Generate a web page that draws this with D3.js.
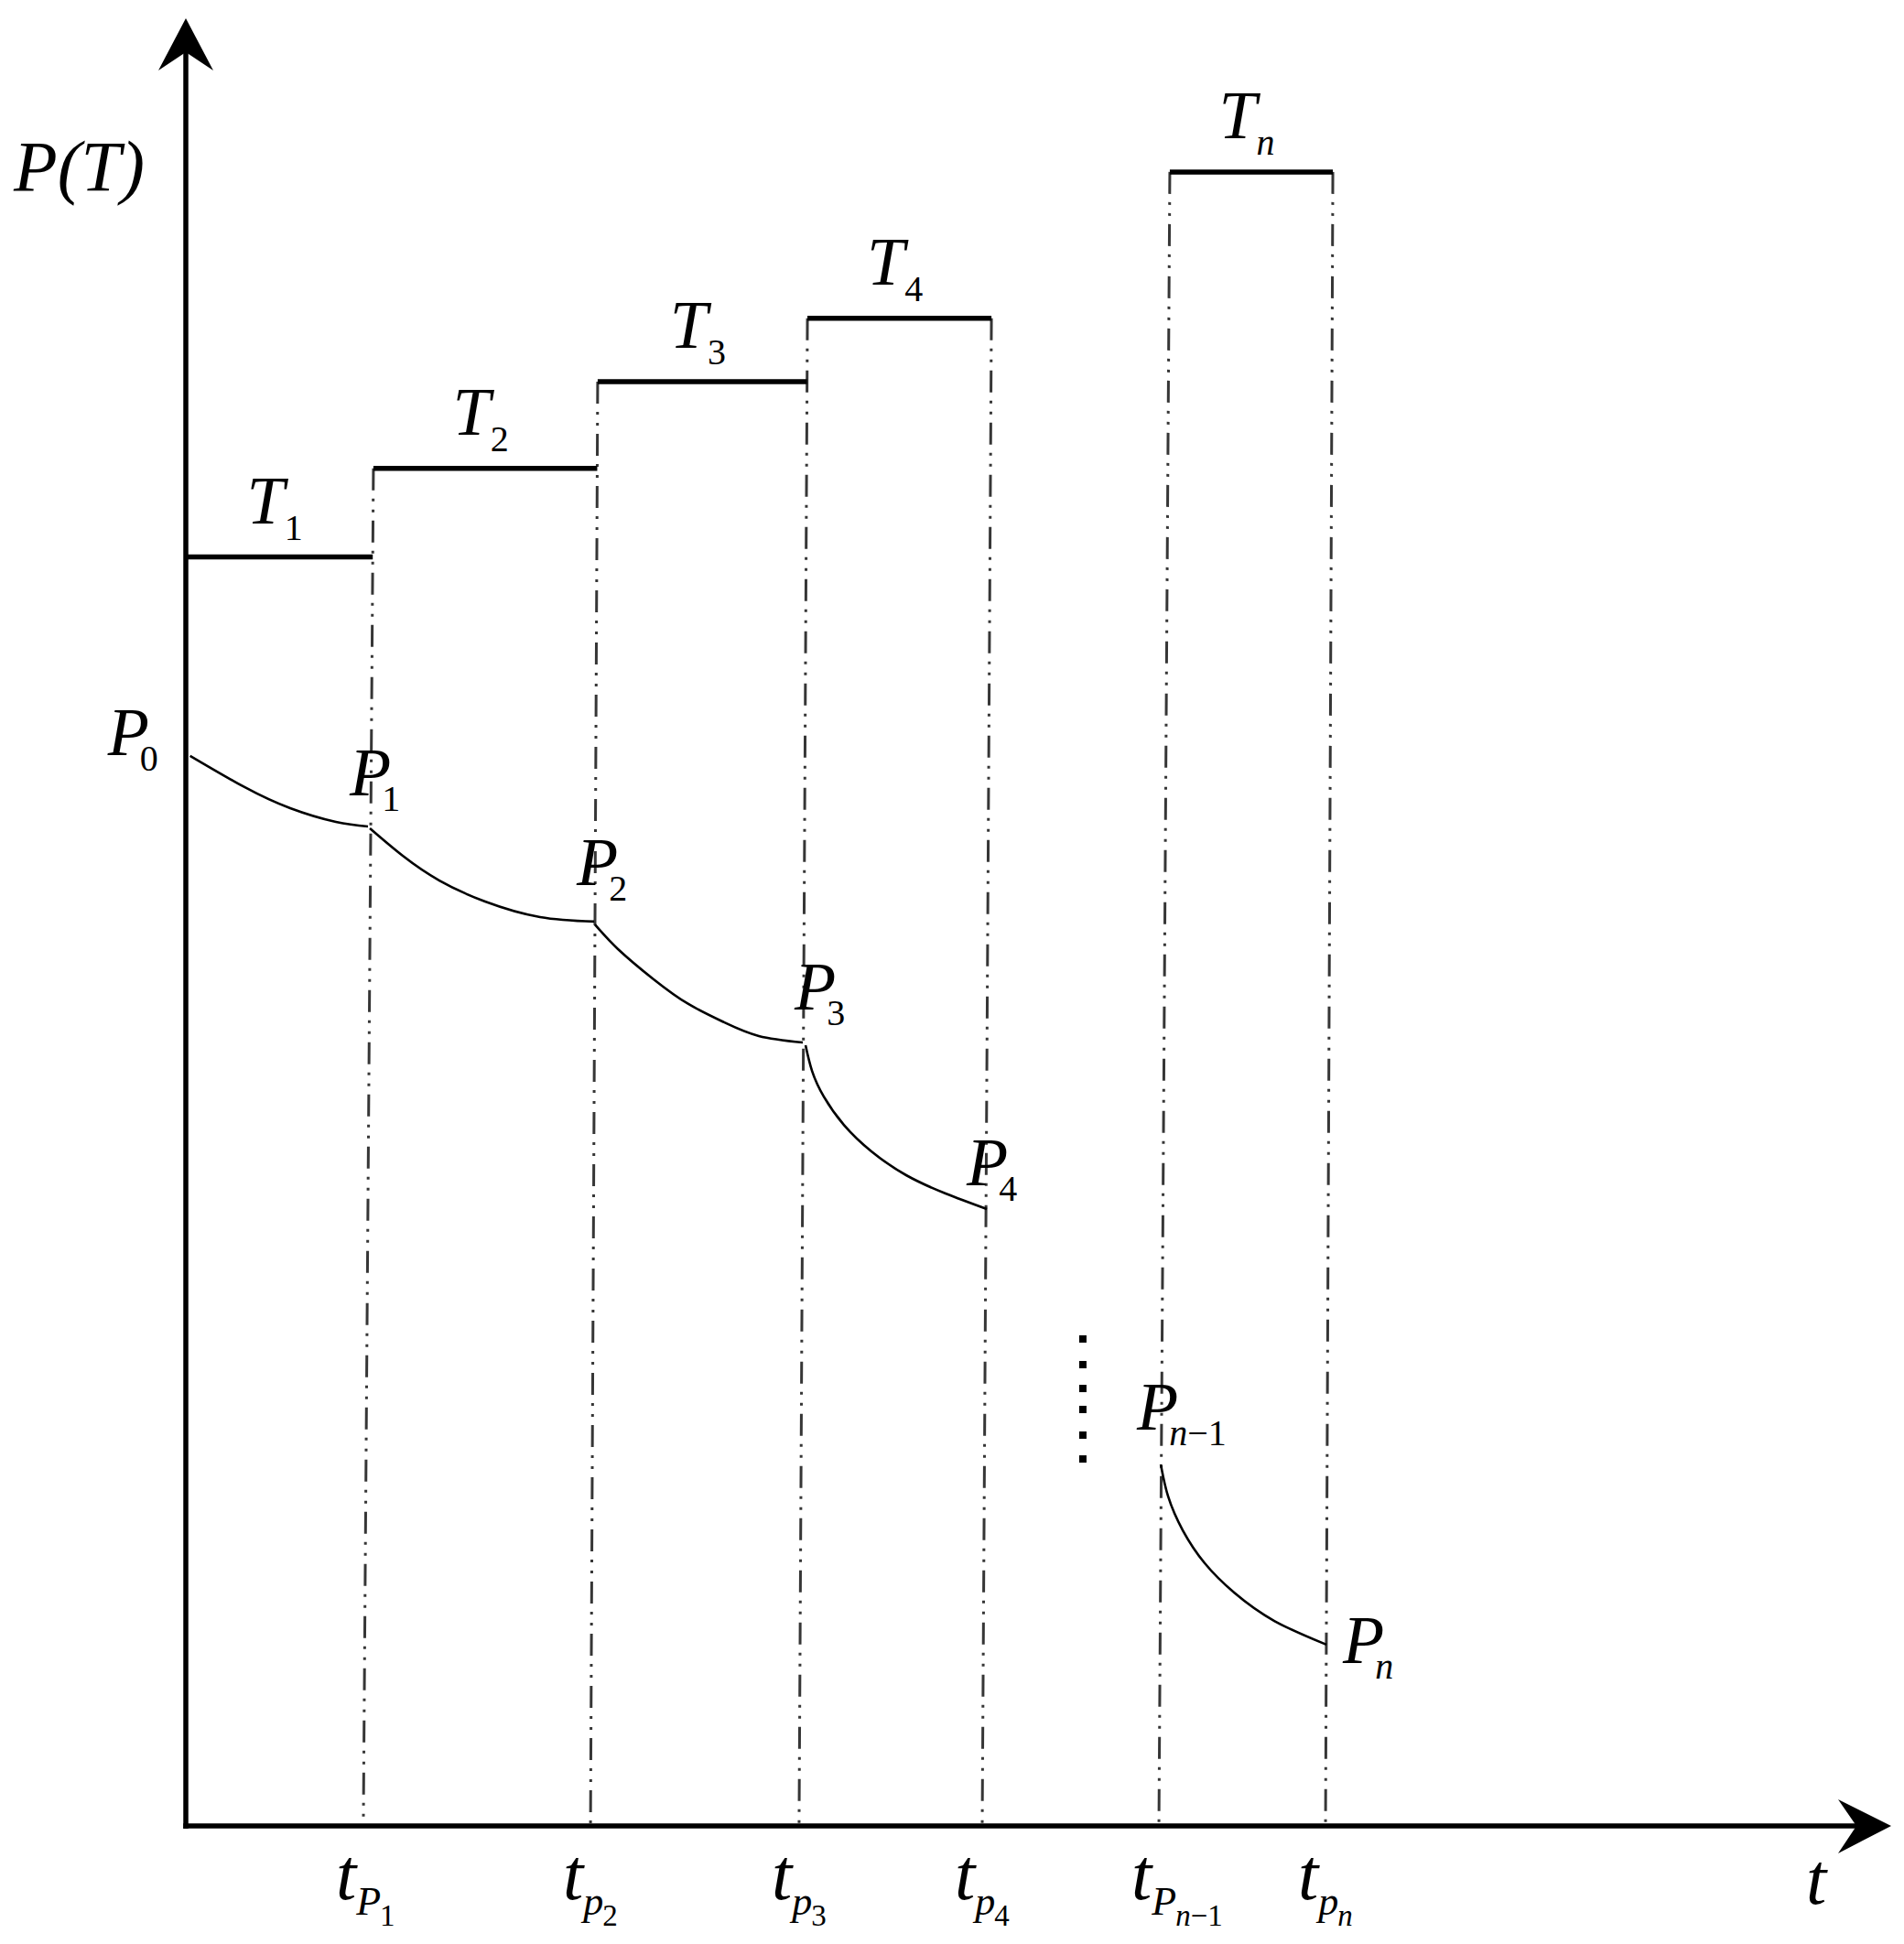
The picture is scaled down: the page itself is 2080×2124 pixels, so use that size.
<!DOCTYPE html>
<html><head><meta charset="utf-8">
<script src="https://cdn.jsdelivr.net/npm/d3@7"></script>
<style>
html,body{margin:0;padding:0;background:#fff;}
svg{display:block;background:#fff;}
text{font-family:"Liberation Serif","Times New Roman",serif;fill:#000;}
</style>
</head><body>
<svg id="chart" width="2080" height="2124"></svg>
<script>
// ---------------- data (abstract units: t on 0..100, P on 0..100) ----------------
const stageNames = ["1", "2", "3", "4", "n"];
const stageLevel = [70.2, 75.1, 79.9, 83.4, 91.5];          // P(T) step level of each stage
const stageFrom  = [-1, 0, 1, 2, 4];                         // boundary index where the step starts (-1 = origin)
const stageTo    = [0, 1, 2, 3, 5];                          // boundary index where the step ends

const boundaryMain   = ["P", "p", "p", "p", "P", "p"];       // t_{p_i} boundary labels
const boundarySub    = ["1", "2", "3", "4", "n−1", "n"];
const boundaryBottom = [10.41, 23.73, 35.96, 46.70, 57.06, 66.83]; // t at the time axis
const boundaryTop    = [11.00, 24.15, 36.45, 47.24, 57.70, 67.26]; // t at the top of the guide line
const boundaryTopLevel = [75.1, 79.9, 83.4, 83.4, 91.5, 91.5];

const pressureSegments = [
  [[0.25, 59.2], [3.44, 57.47], [6.12, 56.30], [8.80, 55.54], [10.68, 55.29]],
  [[10.79, 55.19], [12.72, 53.67], [14.87, 52.30], [17.55, 51.14], [20.77, 50.28], [23.94, 50.03]],
  [[23.99, 49.87], [25.34, 48.51], [27.43, 46.84], [29.47, 45.47], [31.56, 44.46], [33.60, 43.70], [36.18, 43.34]],
  [[36.34, 43.19], [36.72, 41.77], [37.41, 40.35], [38.59, 38.78], [40.20, 37.32], [42.24, 36.00], [44.55, 34.99], [46.97, 34.13]],
  [[57.17, 20.00], [57.60, 18.23], [58.46, 16.35], [59.75, 14.53], [61.47, 12.91], [63.83, 11.34], [66.88, 10.03]]
];
const pointSub = ["0", "1", "2", "3", "4", "n−1", "n"];
const pointAnchors = [[0.25, 59.2], [10.68, 55.29], [23.94, 50.03], [36.18, 43.34], [46.86, 34.18], [57.17, 20.00], [66.77, 10.13]];

const ellipsisT = 52.6;
const ellipsisP = [26.94, 25.52, 24.20, 23.04, 21.62, 20.30];

// ---------------- layout ----------------
const svg = d3.select("#chart");
const x = d3.scaleLinear().domain([0, 100]).range([203, 2066]);
const y = d3.scaleLinear().domain([0, 100]).range([1995, 20]);

// label offsets (px) for P labels
const pointLabelOffset = [[-90, -1], [-20, -34], [-19, -40], [-9, -36], [-20, -25], [-26, -38], [20, 22]];

const BIG = 74, SUB = 40, SUBSUB = 33;
const isDigit = s => /^[0-9]/.test(s);

// guide (dash-dot-dot) lines
const guideX = (i, v) => boundaryBottom[i] + (boundaryTop[i] - boundaryBottom[i]) * v / boundaryTopLevel[i];
svg.append("g").selectAll("line").data(boundaryBottom).join("line")
  .attr("x1", (d, i) => x(boundaryTop[i])).attr("y1", (d, i) => y(boundaryTopLevel[i]))
  .attr("x2", d => x(d)).attr("y2", y(0))
  .attr("stroke", "#363636").attr("stroke-width", 3)
  .attr("stroke-dasharray", "24 9 3 9 3 9");

// step bars
svg.append("g").selectAll("line").data(stageLevel).join("line")
  .attr("x1", (v, i) => stageFrom[i] < 0 ? x(0) : x(guideX(stageFrom[i], v)))
  .attr("x2", (v, i) => x(guideX(stageTo[i], v)))
  .attr("y1", v => y(v)).attr("y2", v => y(v))
  .attr("stroke", "#000").attr("stroke-width", 5.5);

// stage labels T_i
const tl = svg.append("g").selectAll("text").data(stageLevel).join("text")
  .attr("x", (v, i) => {
    const a = stageFrom[i] < 0 ? x(0) : x(guideX(stageFrom[i], v));
    const b = x(guideX(stageTo[i], v));
    return (a + b) / 2 - 5;
  })
  .attr("y", v => y(v) - 37)
  .attr("text-anchor", "middle");
tl.append("tspan").attr("font-size", BIG).attr("font-style", "italic").text("T");
tl.append("tspan").attr("font-size", SUB).attr("dy", 18)
  .attr("font-style", (v, i) => isDigit(stageNames[i]) ? "normal" : "italic")
  .text((v, i) => stageNames[i]);

// pressure curves
const line = d3.line().x(d => x(d[0])).y(d => y(d[1])).curve(d3.curveNatural);
svg.append("g").selectAll("path").data(pressureSegments).join("path")
  .attr("d", line).attr("fill", "none").attr("stroke", "#000").attr("stroke-width", 2.6);

// P labels
const pl = svg.append("g").selectAll("text").data(pointAnchors).join("text")
  .attr("x", (d, i) => x(d[0]) + pointLabelOffset[i][0])
  .attr("y", (d, i) => y(d[1]) + pointLabelOffset[i][1]);
pl.append("tspan").attr("font-size", BIG).attr("font-style", "italic").text("P");
pl.each(function (d, i) {
  const s = pointSub[i];
  const t = d3.select(this);
  if (s === "n−1") {
    t.append("tspan").attr("font-size", SUB).attr("dx", -10).attr("dy", 17).attr("font-style", "italic").text("n");
    t.append("tspan").attr("font-size", SUB).attr("font-style", "normal").text("−1");
  } else {
    t.append("tspan").attr("font-size", SUB).attr("dx", -10).attr("dy", 17)
      .attr("font-style", isDigit(s) ? "normal" : "italic").text(s);
  }
});

// ellipsis dots
svg.append("g").selectAll("rect").data(ellipsisP).join("rect")
  .attr("x", x(ellipsisT) - 4).attr("y", d => y(d) - 4)
  .attr("width", 8).attr("height", 8).attr("fill", "#000");

// axes
svg.append("line").attr("x1", x(0)).attr("y1", y(0) + 3).attr("x2", x(0)).attr("y2", 57)
  .attr("stroke", "#000").attr("stroke-width", 5.5);
svg.append("path").attr("d", `M${x(0)},20 L${x(0) - 30},77 L${x(0)},57 L${x(0) + 30},77 Z`).attr("fill", "#000");
svg.append("line").attr("x1", x(0) - 2.75).attr("y1", y(0)).attr("x2", 2028).attr("y2", y(0))
  .attr("stroke", "#000").attr("stroke-width", 5.5);
svg.append("path").attr("d", `M${x(100)},${y(0)} L2008,${y(0) - 29} L2028,${y(0)} L2008,${y(0) + 30} Z`).attr("fill", "#000");

// axis titles
svg.append("text").attr("x", 15).attr("y", 208).attr("font-size", 78).attr("font-style", "italic").text("P(T)");
svg.append("text").attr("x", 1973).attr("y", 2080).attr("font-size", 80).attr("font-style", "italic").text("t");

// boundary tick labels t_{p_i}
const bl = svg.append("g").selectAll("text").data(boundaryBottom).join("text")
  .attr("x", d => x(d) - 30).attr("y", 2075);
bl.append("tspan").attr("font-size", 80).attr("font-style", "italic").text("t");
bl.append("tspan").attr("font-size", 44).attr("font-style", "italic").attr("dx", 0).attr("dy", 17)
  .text((d, i) => boundaryMain[i]);
bl.each(function (d, i) {
  const s = boundarySub[i];
  const t = d3.select(this);
  if (s === "n−1") {
    t.append("tspan").attr("font-size", SUBSUB).attr("dx", -1).attr("dy", 12).attr("font-style", "italic").text("n");
    t.append("tspan").attr("font-size", SUBSUB).attr("font-style", "normal").text("−1");
  } else {
    t.append("tspan").attr("font-size", SUBSUB).attr("dx", -1).attr("dy", 12)
      .attr("font-style", isDigit(s) ? "normal" : "italic").text(s);
  }
});
</script>
</body></html>
